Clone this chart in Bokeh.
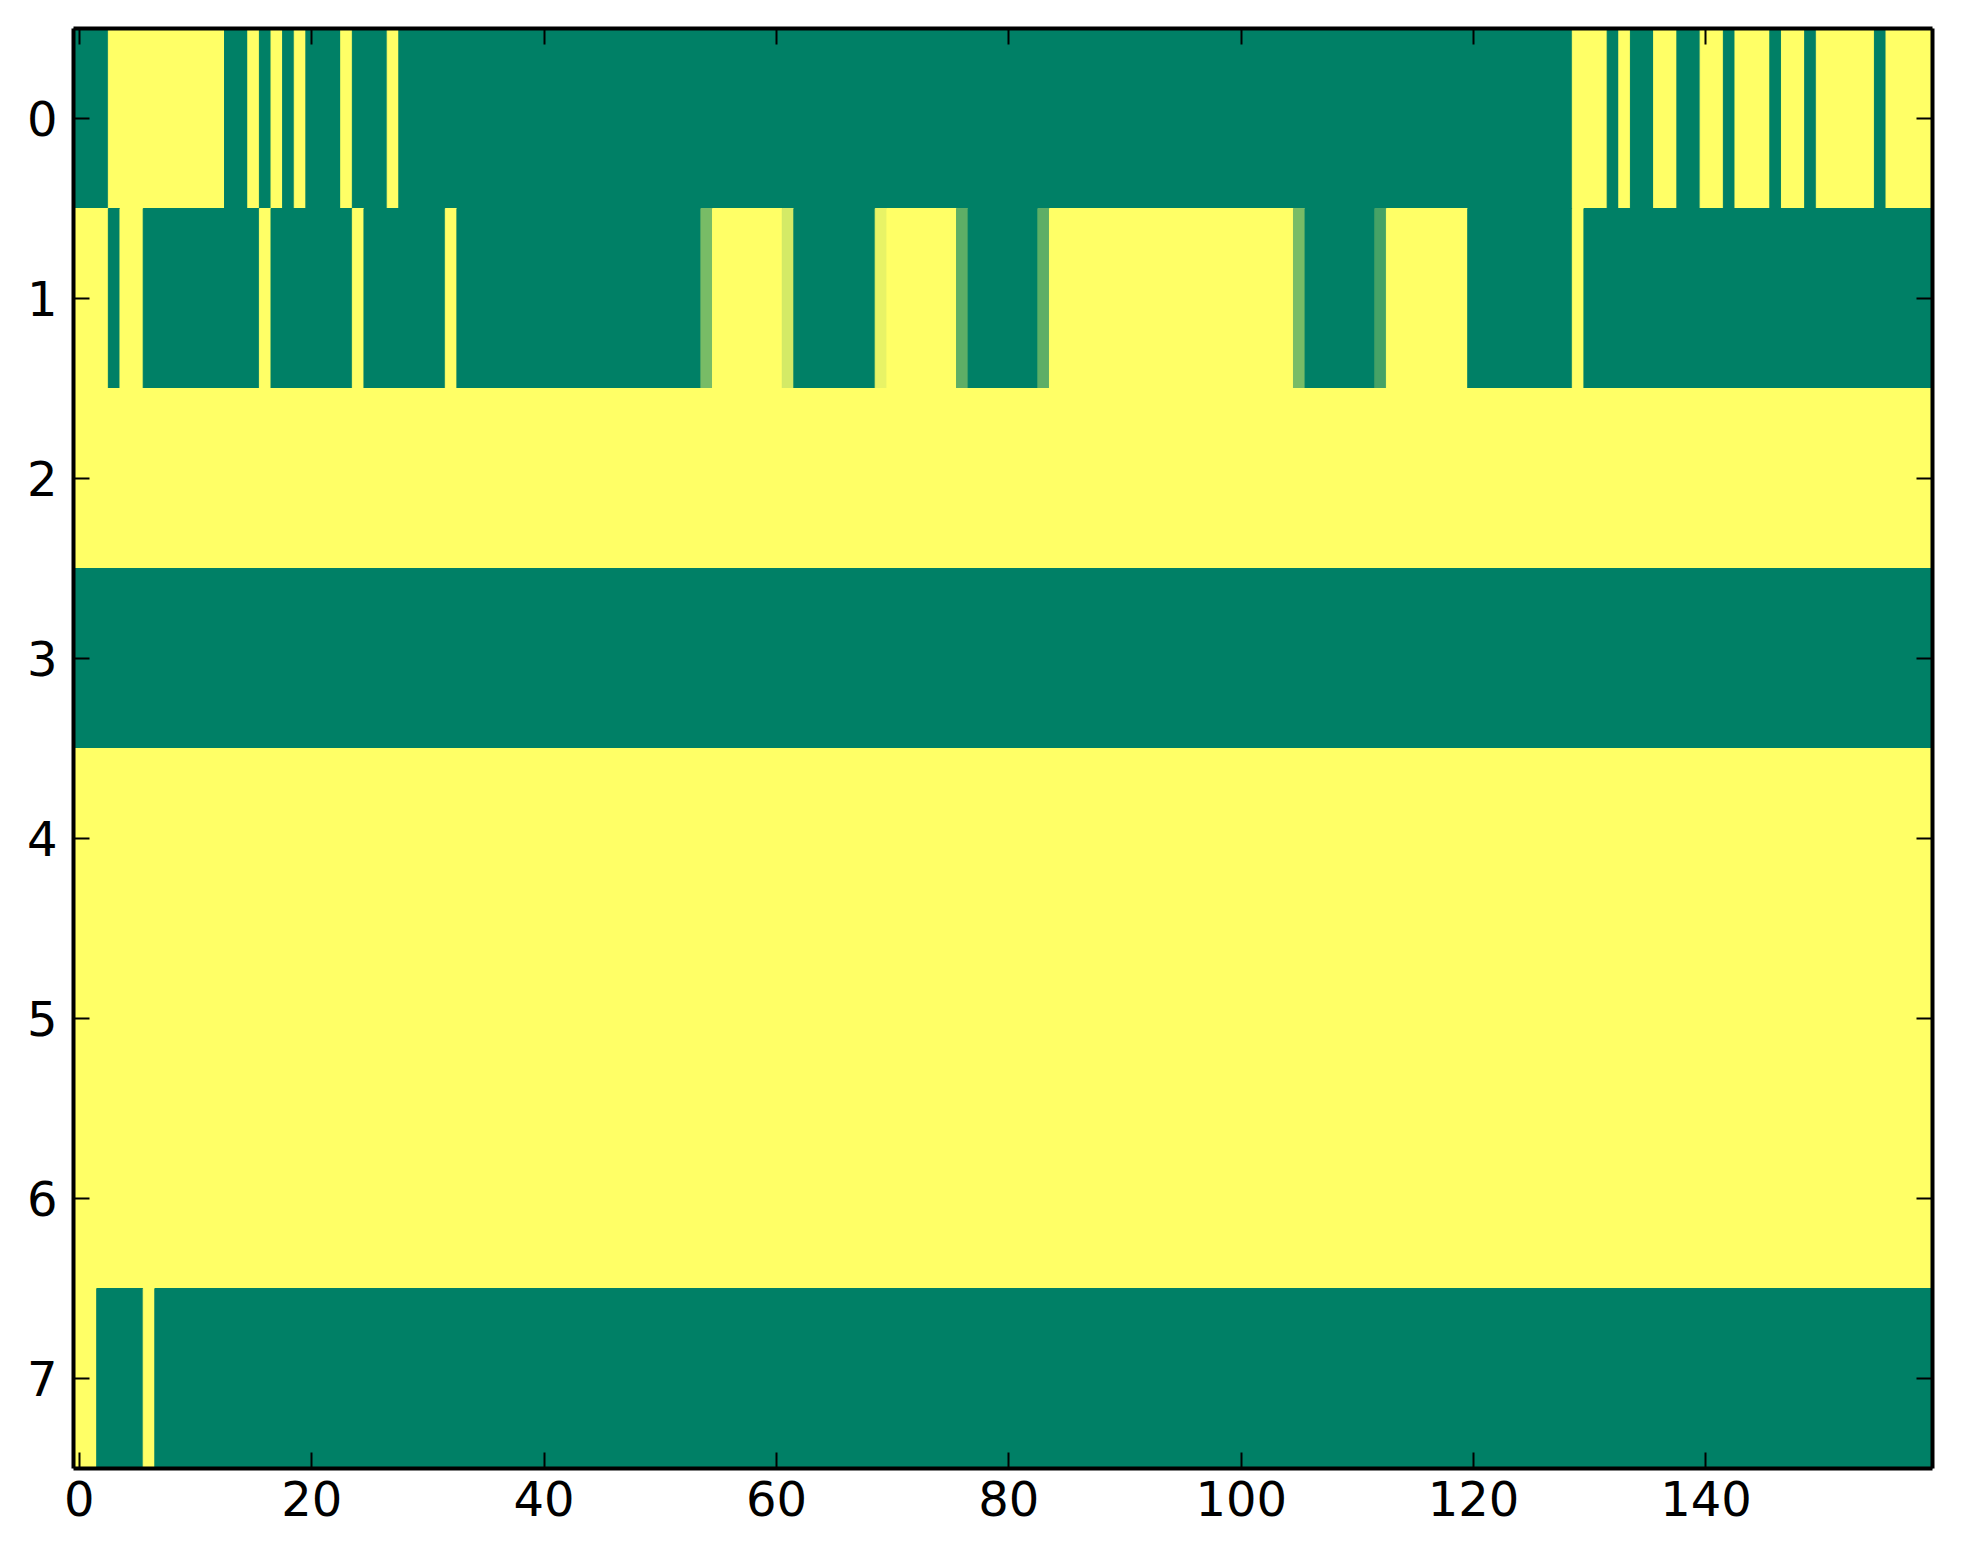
from bokeh.plotting import figure
from bokeh.models import ColumnDataSource, LinearColorMapper, LinearAxis, FixedTicker, Range1d
from bokeh.transform import transform
from bokeh.embed import file_html
from bokeh.resources import INLINE

# cell values (0 = green, 1 = yellow), one list per row
row0 = [0, 0, 0, 1, 1, 1, 1, 1, 1, 1, 1, 1, 1, 0, 0, 1, 0, 1, 0, 1,
        0, 0, 0, 1, 0, 0, 0, 1, 0, 0, 0, 0, 0, 0, 0, 0, 0, 0, 0, 0,
        0, 0, 0, 0, 0, 0, 0, 0, 0, 0, 0, 0, 0, 0, 0, 0, 0, 0, 0, 0,
        0, 0, 0, 0, 0, 0, 0, 0, 0, 0, 0, 0, 0, 0, 0, 0, 0, 0, 0, 0,
        0, 0, 0, 0, 0, 0, 0, 0, 0, 0, 0, 0, 0, 0, 0, 0, 0, 0, 0, 0,
        0, 0, 0, 0, 0, 0, 0, 0, 0, 0, 0, 0, 0, 0, 0, 0, 0, 0, 0, 0,
        0, 0, 0, 0, 0, 0, 0, 0, 0, 1, 1, 1, 0, 1, 0, 0, 1, 1, 0, 0,
        1, 1, 0, 1, 1, 1, 0, 1, 1, 0, 1, 1, 1, 1, 1, 0, 1, 1, 1, 1]
row1 = [1, 1, 1, 0, 1, 1, 0, 0, 0, 0, 0, 0, 0, 0, 0, 0, 1, 0, 0, 0,
        0, 0, 0, 0, 1, 0, 0, 0, 0, 0, 0, 0, 1, 0, 0, 0, 0, 0, 0, 0,
        0, 0, 0, 0, 0, 0, 0, 0, 0, 0, 0, 0, 0, 0, .47, 1, 1, 1, 1, 1,
        1, .83, 0, 0, 0, 0, 0, 0, 0, .91, 1, 1, 1, 1, 1, 1, .37, 0, 0, 0,
        0, 0, 0, .37, 1, 1, 1, 1, 1, 1, 1, 1, 1, 1, 1, 1, 1, 1, 1, 1,
        1, 1, 1, 1, 1, .47, 0, 0, 0, 0, 0, 0, .27, 1, 1, 1, 1, 1, 1, 1,
        0, 0, 0, 0, 0, 0, 0, 0, 0, 1, 0, 0, 0, 0, 0, 0, 0, 0, 0, 0,
        0, 0, 0, 0, 0, 0, 0, 0, 0, 0, 0, 0, 0, 0, 0, 0, 0, 0, 0, 0]
row2 = [1] * 160
row3 = [0] * 160
row4 = [1] * 160
row5 = [1] * 160
row6 = [1] * 160
row7 = [1, 1, 0, 0, 0, 0, 1] + [0] * 153

rows = [row0, row1, row2, row3, row4, row5, row6, row7]
x_ticks = [0, 20, 40, 60, 80, 100, 120, 140]
y_ticks = [0, 1, 2, 3, 4, 5, 6, 7]

# matplotlib "summer" colormap
summer = ["#%02x%02x%02x" % (round(255 * i / 255), round(255 * (0.5 + i / 510)), 102)
          for i in range(256)]
mapper = LinearColorMapper(palette=summer, low=0, high=1)

# merge equal neighbouring cells into runs
left, right, top, bottom, val = [], [], [], [], []
for r, row in enumerate(rows):
    start = 0
    for c in range(1, len(row) + 1):
        if c == len(row) or row[c] != row[start]:
            left.append(start - 0.5)
            right.append(c - 0.5)
            top.append(r - 0.5)
            bottom.append(r + 0.5)
            val.append(row[start])
            start = c
source = ColumnDataSource(data=dict(left=left, right=right, top=top, bottom=bottom, v=val))

p = figure(width=1955, height=1548, output_backend="svg", toolbar_location=None,
           x_range=Range1d(-0.5, 159.5), y_range=Range1d(7.5, -0.5),
           min_border_left=73, min_border_right=23, min_border_top=28, min_border_bottom=80)
p.background_fill_color = summer[0]
p.grid.visible = False
p.outline_line_color = None

# stroke each cell in its own colour so neighbouring cells leave no seams
p.quad(left="left", right="right", top="top", bottom="bottom", source=source,
       fill_color=transform("v", mapper), line_color=transform("v", mapper), line_width=1)

p.add_layout(LinearAxis(), "above")
p.add_layout(LinearAxis(), "right")

for ax in p.xaxis:
    ax.ticker = FixedTicker(ticks=x_ticks)
for ax in p.yaxis:
    ax.ticker = FixedTicker(ticks=y_ticks)

for ax in p.axis:
    ax.axis_line_color = "black"
    ax.axis_line_width = 4
    ax.major_tick_in = 16
    ax.major_tick_out = 0
    ax.major_tick_line_width = 2
    ax.major_tick_line_color = "black"
    ax.minor_tick_line_color = None
    ax.major_label_text_font = "DejaVu Sans"
    ax.major_label_text_font_size = "48px"
    ax.major_label_text_color = "black"

# top and right axes carry ticks only
p.above[0].major_label_overrides = {t: "" for t in x_ticks}
p.above[0].major_label_text_font_size = "1px"
p.above[0].major_label_standoff = 0
p.right[0].major_label_overrides = {t: "" for t in y_ticks}
p.right[0].major_label_text_font_size = "1px"
p.right[0].major_label_standoff = 0
p.below[0].major_label_standoff = 12
p.left[0].major_label_standoff = 16

open("out.html", "w").write(file_html(p, INLINE))
